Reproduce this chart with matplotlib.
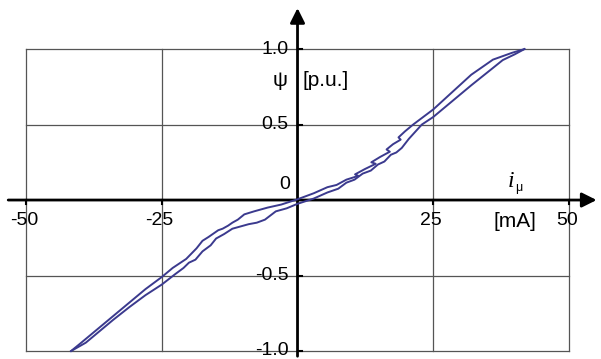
import matplotlib.pyplot as plt

plt.rcParams['font.family'] = ['Liberation Sans', 'DejaVu Sans']

# descending branch (from +max to -max), upper/left curve
i_down = [41.8, 39.5, 36.0, 32.0, 28.5, 25.0, 21.3, 19.8, 18.6, 19.0, 17.6, 16.4, 17.0,
          15.2, 13.6, 14.4, 12.4, 10.6, 11.2, 9.0, 7.2, 5.5, 3.0, 0.0, -3.0, -5.5, -8.0,
          -9.8, -11.0, -12.0, -12.8, -13.8, -14.6, -15.6, -16.4, -17.5, -18.6, -20.5,
          -23.0, -25.0, -28.0, -31.0, -34.0, -37.0, -40.0, -41.7]
psi_down = [1.0, 0.975, 0.93, 0.83, 0.715, 0.60, 0.50, 0.455, 0.415, 0.40, 0.37, 0.335, 0.32,
            0.285, 0.25, 0.24, 0.205, 0.17, 0.16, 0.135, 0.10, 0.085, 0.045, 0.005, -0.03, -0.05,
            -0.075, -0.095, -0.13, -0.15, -0.17, -0.19, -0.20, -0.225, -0.245, -0.27, -0.32,
            -0.39, -0.45, -0.51, -0.59, -0.68, -0.77, -0.86, -0.95, -1.0]

# ascending branch (from -max to +max), lower/right curve
i_up = [-41.7, -39.0, -36.5, -34.0, -31.0, -28.0, -25.0, -22.5, -21.0, -20.0, -18.8, -17.5,
        -16.0, -15.0, -13.5, -12.0, -10.5, -9.0, -7.5, -6.0, -4.0, -2.0, 0.0, 3.0, 5.5,
        7.5, 9.0, 10.5, 12.0, 13.5, 14.8, 16.0, 17.2, 18.2, 19.2, 20.5, 22.9, 25.0, 28.0,
        32.0, 36.0, 37.8, 40.0, 41.8]
psi_up = [-1.0, -0.945, -0.87, -0.795, -0.71, -0.63, -0.56, -0.49, -0.45, -0.415, -0.395, -0.34,
          -0.30, -0.255, -0.225, -0.19, -0.175, -0.16, -0.15, -0.13, -0.075, -0.055, -0.025, 0.01, 0.05,
          0.075, 0.115, 0.135, 0.175, 0.195, 0.235, 0.255, 0.30, 0.315, 0.345, 0.405, 0.50, 0.55, 0.64,
          0.76, 0.875, 0.927, 0.965, 1.0]

x_ticks = [-50, -25, 25, 50]
x_labels = ['-50', '-25', '25', '50']
y_ticks = [1.0, 0.5, -0.5, -1.0]
y_labels = ['1.0', '0.5', '-0.5', '-1.0']

fig = plt.figure(figsize=(6.01, 3.59), dpi=100)
ax = fig.add_axes([0, 0, 1, 1])
ax.set_xlim(-54.8, 55.9)
ax.set_ylim(-1.053, 1.325)
ax.axis('off')

grid_color = '#555555'
# grille
for x in x_ticks:
    ax.plot([x, x], [-1, 1], color=grid_color, lw=0.9, zorder=1)
for y in y_ticks:
    ax.plot([-50, 50], [y, y], color=grid_color, lw=0.9, zorder=1)

# axes avec fleches
ax.annotate('', xy=(55.6, 0), xytext=(-53.8, 0),
            arrowprops=dict(arrowstyle='-|>', color='black', lw=2, mutation_scale=22), zorder=3)
ax.annotate('', xy=(0, 1.29), xytext=(0, -1.053),
            arrowprops=dict(arrowstyle='-|>', color='black', lw=2, mutation_scale=22), zorder=3)

# petits traits de graduation
for x in x_ticks:
    ax.plot([x, x], [0, -0.025], color='black', lw=1.5, zorder=3)
for y in y_ticks:
    ax.plot([0, 0.9], [y, y], color='black', lw=1.5, zorder=3)

# courbe d'hysteresis
line_color = '#3b3a8e'
ax.plot(i_down, psi_down, color=line_color, lw=1.4, zorder=4)
ax.plot(i_up, psi_up, color=line_color, lw=1.4, zorder=4)

fs = 14
for x, lab in zip(x_ticks, x_labels):
    ax.text(x - 0.4, -0.133, lab, ha='center', va='center', fontsize=fs)
for y, lab in zip(y_ticks, y_labels):
    ax.text(-1.7, y, lab, ha='right', va='center', fontsize=fs)
ax.text(-1.4, 0.10, '0', ha='right', va='center', fontsize=fs)

ax.text(-3.2, 0.79, 'ψ', ha='center', va='center', fontsize=15)
ax.text(1.0, 0.79, '[p.u.]', ha='left', va='center', fontsize=15)
ax.text(39.3, 0.12, 'i', ha='center', va='center', fontsize=17,
        family='Liberation Serif', style='italic')
ax.text(40.8, 0.08, 'μ', ha='center', va='center', fontsize=9)
ax.text(40.1, -0.14, '[mA]', ha='center', va='center', fontsize=15)

plt.savefig('out.png', dpi=100)
plt.close()
